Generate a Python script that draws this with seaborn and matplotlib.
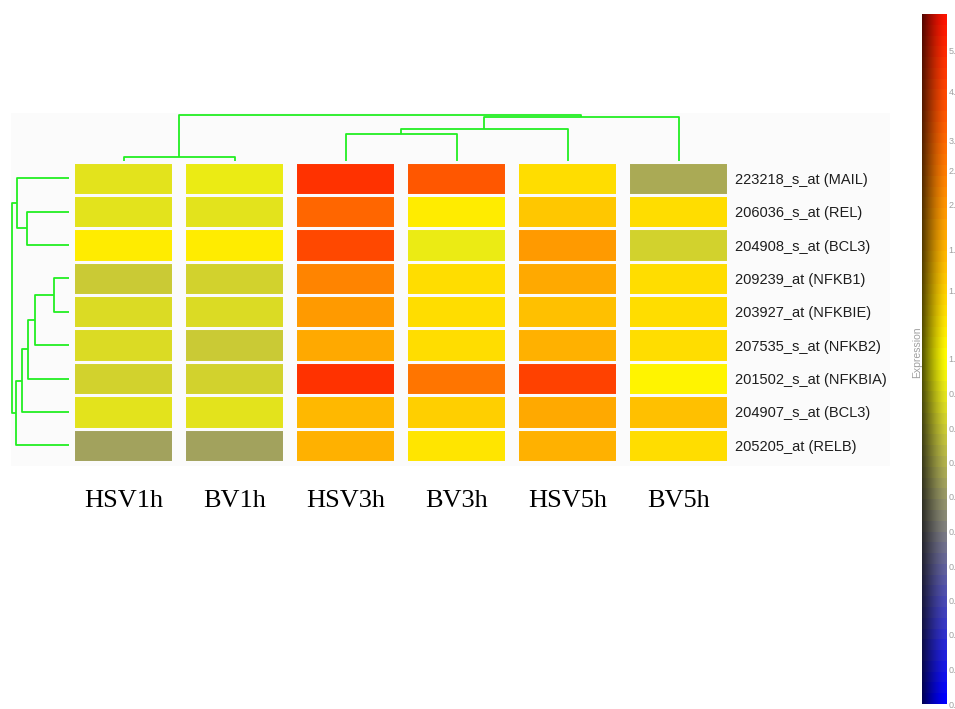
import numpy as np
import pandas as pd
import seaborn as sns
import matplotlib
matplotlib.use("Agg")
import matplotlib.pyplot as plt
from matplotlib.colors import LinearSegmentedColormap, FuncNorm
from matplotlib.patches import Rectangle

# ---- data -------------------------------------------------------------
samples = ["HSV1h", "BV1h", "HSV3h", "BV3h", "HSV5h", "BV5h"]
probes = [
    "223218_s_at (MAIL)",
    "206036_s_at (REL)",
    "204908_s_at (BCL3)",
    "209239_at (NFKB1)",
    "203927_at (NFKBIE)",
    "207535_s_at (NFKB2)",
    "201502_s_at (NFKBIA)",
    "204907_s_at (BCL3)",
    "205205_at (RELB)",
]
hsv1h = [0.89, 0.90, 1.03, 0.80, 0.87, 0.87, 0.84, 0.90, 0.63]
bv1h = [0.92, 0.90, 1.03, 0.83, 0.86, 0.80, 0.83, 0.90, 0.63]
hsv3h = [4.60, 2.98, 3.97, 2.40, 1.93, 1.69, 4.60, 1.48, 1.58]
bv3h = [3.52, 1.03, 0.92, 1.12, 1.12, 1.12, 2.62, 1.23, 1.07]
hsv5h = [1.12, 1.28, 1.93, 1.61, 1.38, 1.58, 4.20, 1.69, 1.55]
bv5h = [0.68, 1.10, 0.83, 1.09, 1.09, 1.12, 1.01, 1.38, 1.09]

# sample clustering: (child_a, child_b, height); leaves are 0..5
col_merges = [(0, 1, 4), (2, 3, 27), (7, 4, 32), (8, 5, 44), (6, 9, 46)]
# probe clustering: leaves are 0..8
row_merges = [(1, 2, 42), (0, 9, 52), (3, 4, 15), (11, 5, 34), (12, 6, 41),
              (13, 7, 47), (14, 8, 53), (10, 15, 57)]

cbar_ticks = [0.0, 0.1, 0.2, 0.3, 0.4, 0.5, 0.6, 0.7, 0.8, 0.9, 1.0,
              1.2, 1.5, 2.0, 2.5, 3.0, 4.0, 5.0]

df = pd.DataFrame({"HSV1h": hsv1h, "BV1h": bv1h, "HSV3h": hsv3h,
                   "BV3h": bv3h, "HSV5h": hsv5h, "BV5h": bv5h},
                  index=probes)[samples]

# ---- colour scale: linear below 1, square-root compressed above 1 ------
def fwd(v):
    v = np.asarray(v, dtype=float)
    return np.where(v <= 1, v, 1 + np.sqrt(np.clip(v - 1, 0, None) / 5.0))

def inv(u):
    u = np.asarray(u, dtype=float)
    return np.where(u <= 1, u, 1 + 5.0 * (np.clip(u - 1, 0, None)) ** 2)

norm = FuncNorm((fwd, inv), vmin=0.0, vmax=6.0)
cmap = LinearSegmentedColormap.from_list(
    "expr", [(0.0, "#0000ff"), (0.5, "#ffff00"), (1.0, "#ff1400")], N=64)

# ---- layout -----------------------------------------------------------
W, H = 955, 709
PANEL = "#fbfbfb"
GREEN = "#22ee22"
SANS = ["Liberation Sans", "DejaVu Sans"]

def rect(l, t, r, b):
    return [l / W, 1 - b / H, (r - l) / W, (b - t) / H]

sns.set_theme(style="white")
fig = plt.figure(figsize=(W / 100, H / 100), dpi=100)
fig.patch.set_facecolor("white")
fig.patches.append(Rectangle((11 / W, 1 - 466 / H), 879 / W, 353 / H,
                             transform=fig.transFigure, facecolor=PANEL,
                             edgecolor="none", zorder=-5))

hm_top, hm_bot = 161.5, 161.5 + 9 * 33.4
ax = fig.add_axes(rect(68, hm_top, 734, hm_bot))
ax.set_facecolor(PANEL)
sns.heatmap(df, ax=ax, cmap=cmap, norm=norm, cbar=False,
            xticklabels=True, yticklabels=True)
for j in range(len(samples) + 1):
    ax.axvline(j, color=PANEL, lw=10.1)
for i in range(len(probes) + 1):
    ax.axhline(i, color=PANEL, lw=2.2)

ax.yaxis.tick_right()
ax.tick_params(axis="y", length=0, pad=0.7, left=False, right=False,
               labelleft=False, labelright=True)
ax.set_yticklabels(probes, rotation=0, ha="left", color="#1e1e1e",
                   fontsize=10.5, family=SANS)
ax.tick_params(axis="x", length=0, pad=20)
ax.set_xticklabels(samples, rotation=0, color="black", fontsize=19,
                   family=["Liberation Serif", "DejaVu Serif"])
ax.set_xlabel("")
ax.set_ylabel("")


def dendro_segments(merges, n):
    pos = {k: k + 0.5 for k in range(n)}
    hgt = {k: 0.0 for k in range(n)}
    segs = []
    for k, (a, b, h) in enumerate(merges):
        xa, ya, xb, yb = pos[a], hgt[a], pos[b], hgt[b]
        segs.append(([xa, xa, xb, xb], [ya, h, h, yb]))
        pos[n + k] = (xa + xb) / 2
        hgt[n + k] = h
    return segs

# sample dendrogram on top
axc = fig.add_axes(rect(68, 111, 734, 161))
axc.set_xlim(0, len(samples))
axc.set_ylim(0, 50)
for xs, ys in dendro_segments(col_merges, len(samples)):
    axc.plot(xs, ys, color=GREEN, lw=1.3, solid_capstyle="butt")
axc.axis("off")

# probe dendrogram on the left
axr = fig.add_axes(rect(10, hm_top, 69, hm_bot))
axr.set_xlim(59, 0)
axr.set_ylim(len(probes), 0)
for ps, hs in dendro_segments(row_merges, len(probes)):
    axr.plot(hs, ps, color=GREEN, lw=1.3, solid_capstyle="butt")
axr.axis("off")

# ---- colour bar -------------------------------------------------------
cax = fig.add_axes(rect(922, 14, 947, 704))
cb = fig.colorbar(ax.collections[0], cax=cax, ticks=cbar_ticks)
cb.outline.set_visible(False)
cax.set_yticklabels([f"{t:.1f}" for t in cbar_ticks])
cax.tick_params(axis="y", length=0, pad=1, labelsize=6.5, labelcolor="#a0a0a0")
for t in cax.get_yticklabels():
    t.set_family(SANS)

# shading across the bar, dark on the left edge
shade = fig.add_axes(rect(922, 14, 947, 704))
g = np.zeros((1, 40, 4))
g[0, :, 3] = 0.68 * (1 - np.linspace(0, 1, 40)) ** 1.4
shade.imshow(g, aspect="auto", extent=(0, 1, 0, 1), interpolation="bilinear")
shade.axis("off")

fig.text(917 / W, 1 - 352 / H, "Expression", rotation=90, ha="center",
         va="center", fontsize=7.5, color="#a0a0a0", family=SANS)

fig.savefig("out.png", dpi=100, facecolor="white")
